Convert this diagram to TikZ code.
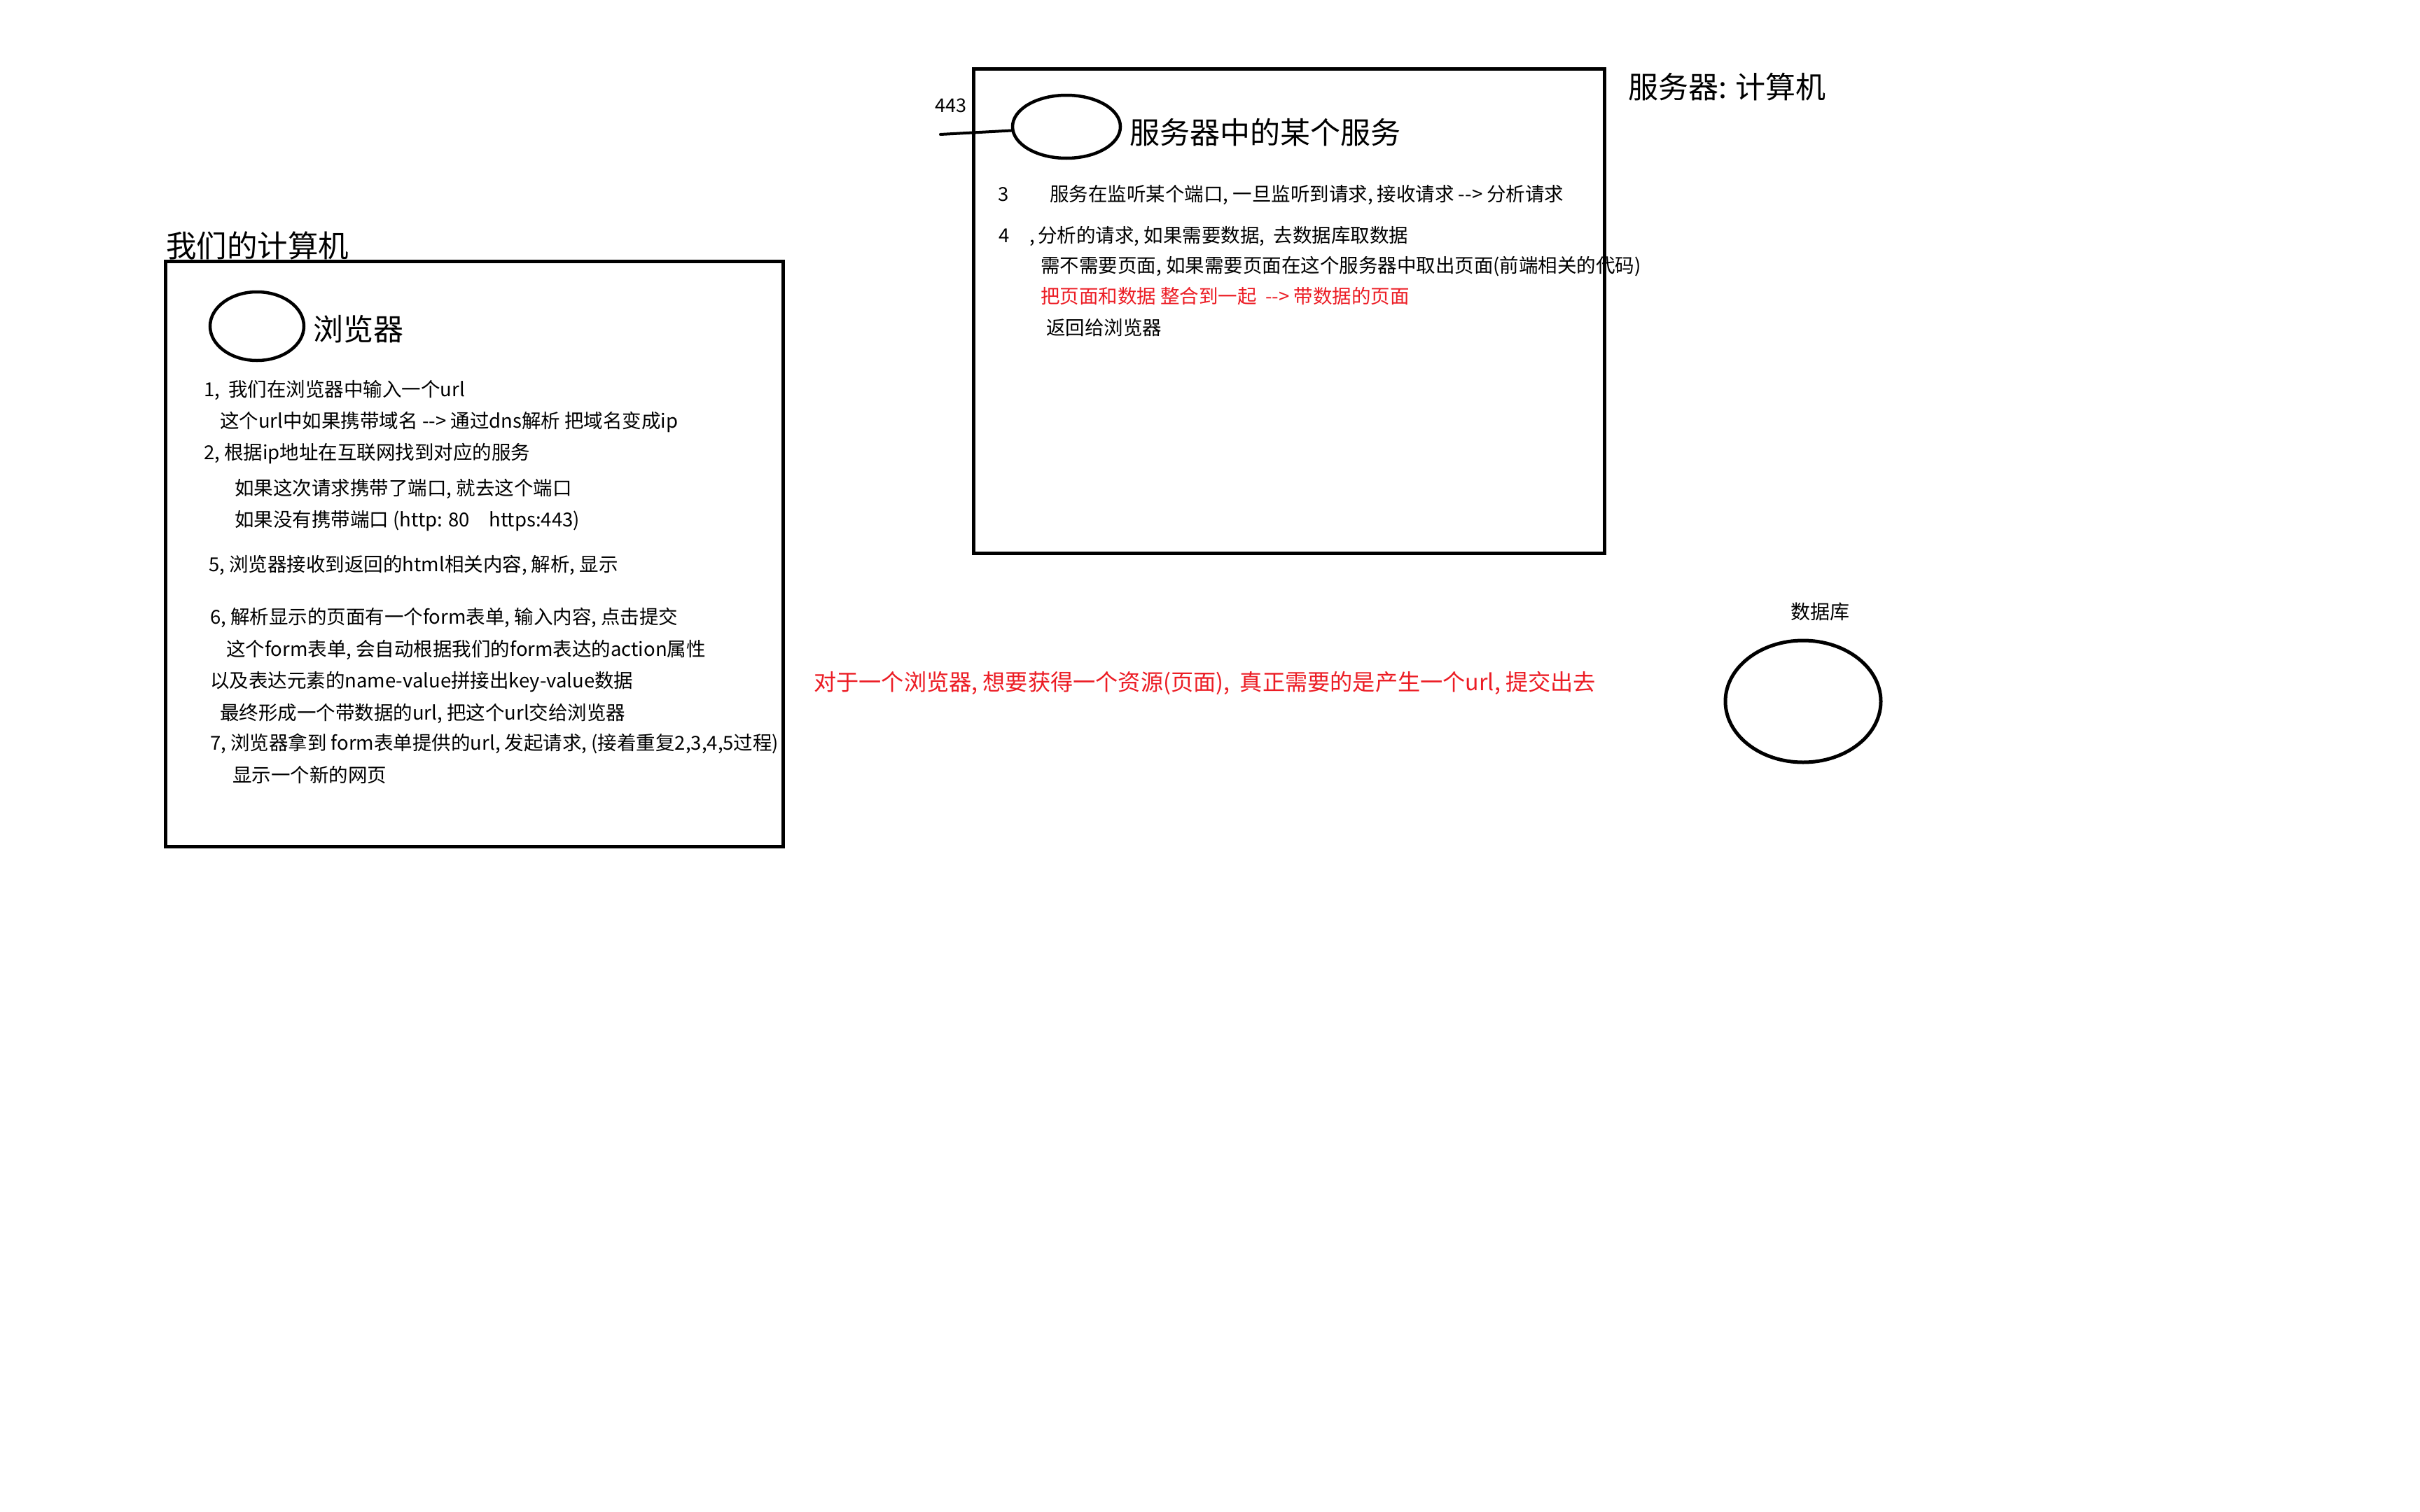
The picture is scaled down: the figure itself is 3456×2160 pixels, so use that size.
\documentclass[tikz,border=0pt]{standalone}
\usepackage{fontspec}
\setmainfont{Noto Sans CJK SC}
\usetikzlibrary{shapes.geometric}
\definecolor{redtxt}{RGB}{236,28,36}
\begin{document}
\begin{tikzpicture}[x=1pt,y=-1pt,
  frame/.style={draw, line width=5pt, inner sep=0pt, outer sep=0pt},
  oval/.style={draw, ellipse, line width=4.5pt, inner sep=0pt},
  small/.style={anchor=base west, inner sep=0pt, font=\fontsize{27.5}{33}\selectfont},
  big/.style={anchor=base west, inner sep=0pt, font=\fontsize{43}{50}\selectfont},
  hot/.style={text=redtxt}]
\useasboundingbox[fill=white] (0,0) rectangle (3456,2160);

% left box: our computer
\node[frame, minimum width=882pt, minimum height=836pt] (pc) at (677,791) {};
\node[big, font=\fontsize{43.5}{50}\selectfont] (pctitle) at (237,367.5) {我们的计算机};
\node[oval, minimum width=134pt, minimum height=98pt] (browser) at (367,466) {};
\node[big] (browserlbl) at (447,486) {浏览器};
\node[small] (l1) at (291,566) {1,\ \ 我们在浏览器中输入一个url};
\node[small] (l2) at (314,611) {这个url中如果携带域名 -{}-> 通过dns解析 把域名变成ip};
\node[small] (l3) at (291,656) {2, 根据ip地址在互联网找到对应的服务};
\node[small] (l4) at (335,707) {如果这次请求携带了端口, 就去这个端口};
\node[small] (l5) at (335,752) {如果没有携带端口 (http: 80\quad https:443)};
\node[small] (l6) at (298,816) {5, 浏览器接收到返回的html相关内容, 解析, 显示};
\node[small] (l7) at (300,891) {6, 解析显示的页面有一个form表单, 输入内容, 点击提交};
\node[small] (l8) at (323,937) {这个form表单, 会自动根据我们的form表达的action属性};
\node[small] (l9) at (300,982) {以及表达元素的name-value拼接出key-value数据};
\node[small] (l10) at (314,1028) {最终形成一个带数据的url, 把这个url交给浏览器};
\node[small] (l11) at (300,1071) {7, 浏览器拿到 form表单提供的url, 发起请求, (接着重复2,3,4,5过程)};
\node[small] (l12) at (332,1117) {显示一个新的网页};

% server box
\node[frame, minimum width=901pt, minimum height=692pt] (srv) at (1840.5,444) {};
\node[big] (srvtitle) at (2325,140) {服务器: 计算机};
\node[oval, minimum width=154pt, minimum height=90pt] (svc) at (1523,181) {};
\node[big] (svclbl) at (1613,205) {服务器中的某个服务};
\node[small, font=\fontsize{27}{32}\selectfont] (port443) at (1335,160) {443};
\coordinate (port) at (1343,192);
\draw[line width=4pt, line cap=round] (port) -- (svc.184);
\node[small] (s3n) at (1425,287.5) {3};
\node[small] (s3) at (1499,287.5) {服务在监听某个端口, 一旦监听到请求, 接收请求 -{}-> 分析请求};
\node[small] (s4n) at (1426,346) {4};
\node[small] (s4) at (1470,346) {,\,分析的请求, 如果需要数据,\ \ 去数据库取数据};
\node[small] (s5) at (1486,389.5) {需不需要页面, 如果需要页面在这个服务器中取出页面(前端相关的代码)};
\node[small, hot] (s6) at (1486,433.5) {把页面和数据 整合到一起\ \ -{}-> 带数据的页面};
\node[small] (s7) at (1494,478.5) {返回给浏览器};

% middle note
\node[small, hot, font=\fontsize{32.2}{38}\selectfont] (note) at (1162,986) {对于一个浏览器, 想要获得一个资源(页面),\ \ 真正需要的是产生一个url, 提交出去};

% database
\node[small, font=\fontsize{28}{34}\selectfont] (dblbl) at (2557,884.5) {数据库};
\node[oval, line width=5pt, minimum width=222pt, minimum height=174pt] (db) at (2575,1002) {};
\end{tikzpicture}
\end{document}
